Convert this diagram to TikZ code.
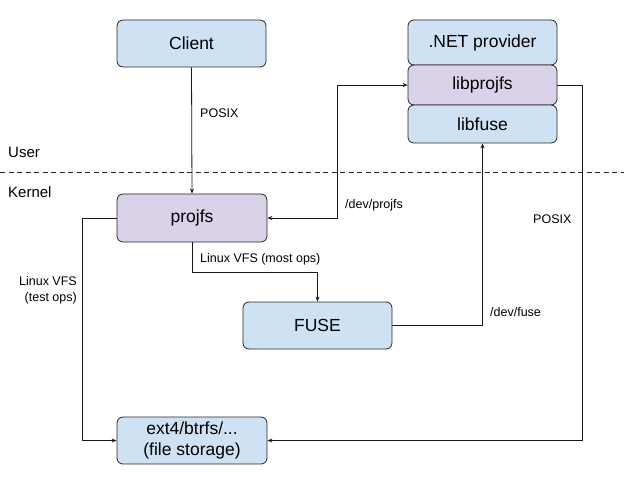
\documentclass[tikz,border=0pt]{standalone}
\usepackage{fontspec}
\setmainfont{Liberation Sans}
\usetikzlibrary{arrows.meta}
\definecolor{boxblue}{HTML}{CFE2F3}
\definecolor{boxpurple}{HTML}{D9D2E9}
\tikzset{
  box/.style={draw=black!85, line width=0.8pt, rounded corners=6pt, minimum width=149pt, inner sep=0pt, align=center, font=\fontsize{17.5}{20}\selectfont},
  blue/.style={box, fill=boxblue},
  purple/.style={box, fill=boxpurple},
  conn/.style={draw=black!90, line width=0.8pt, -{Stealth[length=5pt,width=4pt]}},
  lbl/.style={font=\fontsize{12.5}{15}\selectfont, inner sep=0pt},
  zone/.style={font=\fontsize{15}{18}\selectfont, inner sep=0pt, anchor=west}
}
\begin{document}
\begin{tikzpicture}[x=1pt,y=-1pt]
\useasboundingbox (0,0) rectangle (624,481);
\coordinate (dl) at (0,172);
\coordinate (dr) at (624,172);
\draw[black!85, line width=0.8pt, dash pattern=on 5pt off 3.5pt] (dl) -- (dr);
\node[zone] (user) at (8,152) {User};
\node[zone] (kernel) at (8,192) {Kernel};

\node[blue, minimum height=47pt] (client) at (191.5,43.5) {Client};
\node[purple, minimum height=48pt, minimum width=150pt] (projfs) at (192,218) {projfs};
\node[blue, minimum height=47pt] (fuse) at (317.5,325.5) {FUSE};
\node[blue, minimum height=47pt, minimum width=150pt, font=\fontsize{17.5}{21}\selectfont] (ext4) at (192,440.5) {ext4/btrfs/...\\(file storage)};

\node[blue, minimum height=45pt] (net) at (482.5,42.5) {.NET provider};
\node[purple, minimum height=40pt] (libprojfs) at (482.5,85) {libprojfs};
\node[blue, minimum height=38pt] (libfuse) at (482.5,124) {libfuse};

\draw[conn] (client.south) -- (projfs.north);
\draw[conn, {Stealth[length=5pt,width=4pt]}-{Stealth[length=5pt,width=4pt]}] (projfs.east) -- ++(70,0) |- (libprojfs.west);
\draw[conn] (projfs.south) -- ++(0,30) -| (fuse.north);
\draw[conn] (projfs.west) -- ++(-34,0) |- (ext4.west);
\draw[conn] (fuse.east) -| (libfuse.south);
\draw[conn] (libprojfs.east) -- ++(24.5,0) |- (ext4.east);

\node[lbl, anchor=west] (lposix) at (200,113) {POSIX};
\node[lbl, anchor=west] (ldevprojfs) at (345,205) {/dev/projfs};
\node[lbl, anchor=west] (lmost) at (200,259) {Linux VFS (most ops)};
\node[lbl, anchor=east, align=right, font=\fontsize{12.5}{15.5}\selectfont] (ltest) at (77,290.5) {Linux VFS\\(test ops)};
\node[lbl, anchor=west] (ldevfuse) at (490,312) {/dev/fuse};
\node[lbl, anchor=west] (lposix2) at (533,219) {POSIX};
\end{tikzpicture}
\end{document}
